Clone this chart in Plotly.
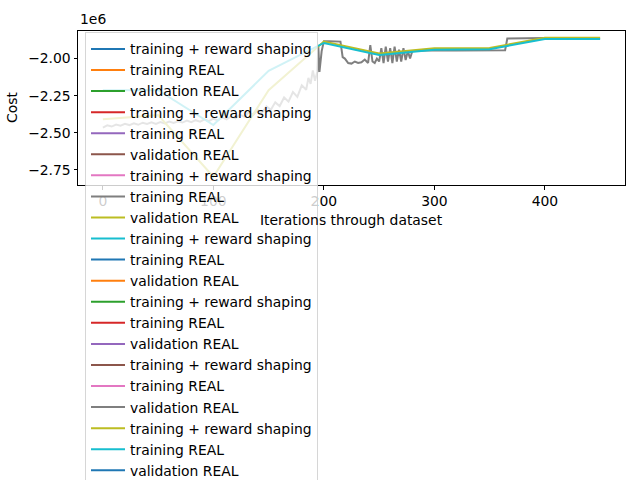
import plotly.graph_objects as go
import numpy as np

# ---------------- data (cost in units of 1e6) ----------------
labels_cycle = ["training + reward shaping", "training REAL", "validation REAL"]
colors = ["#1f77b4", "#ff7f0e", "#2ca02c", "#d62728", "#9467bd",
          "#8c564b", "#e377c2", "#7f7f7f", "#bcbd22", "#17becf"]

epoch_x = [0, 50, 100, 150, 200, 250, 300, 350, 400, 450]
shaping_cost = [-2.213, -2.213, -2.448, -2.083, -1.895, -1.976, -1.940, -1.937, -1.868, -1.868]
validation_cost = [-2.408, -2.381, -2.796, -2.213, -1.886, -1.966, -1.931, -1.929, -1.860, -1.860]

train_real_x = [0, 4, 8, 12, 16, 20, 24, 28, 32, 36, 40, 44, 48, 52, 56, 60, 64, 68, 72, 76,
                80, 84, 88, 92, 96, 100, 104, 108, 112, 116, 120, 124, 128, 132, 136, 140,
                144, 148, 152, 156, 160, 164, 168, 172, 176, 180, 184, 186, 188, 190, 192,
                194, 195, 196, 198, 200, 205, 210, 215, 217, 219, 222, 225, 228, 231, 234,
                237, 240, 242, 244, 246, 248, 250, 252, 254, 256, 258, 260, 262, 264, 266,
                268, 270, 272, 274, 276, 278, 280, 290, 300, 320, 340, 360, 364, 366, 380, 400]
train_real_cost = [-2.465, -2.450, -2.458, -2.445, -2.452, -2.440, -2.448, -2.436, -2.446, -2.432,
                   -2.441, -2.430, -2.440, -2.428, -2.437, -2.425, -2.434, -2.422, -2.431, -2.418,
                   -2.428, -2.415, -2.425, -2.410, -2.421, -2.405, -2.416, -2.398, -2.410, -2.390,
                   -2.402, -2.378, -2.392, -2.362, -2.380, -2.345, -2.365, -2.322, -2.345, -2.295,
                   -2.320, -2.262, -2.290, -2.225, -2.258, -2.180, -2.210, -2.130, -2.170, -2.080,
                   -2.150, -2.090, -1.920, -2.090, -1.950, -1.884, -1.884, -1.884, -1.886, -1.990,
                   -2.000, -2.030, -2.034, -2.020, -2.030, -2.025, -2.007, -2.030, -1.910, -2.020,
                   -2.030, -2.000, -2.020, -1.930, -2.030, -1.920, -2.020, -1.930, -2.030, -1.920,
                   -2.020, -1.940, -2.020, -1.930, -2.010, -1.950, -2.000, -1.950, -1.945, -1.944,
                   -1.945, -1.946, -1.946, -1.944, -1.865, -1.862, -1.862]

# runs whose curves are not visible in the picture (legend entries only)
empty_run_x = [None]
empty_run_cost = [None]

y_tick_vals = [-2.75, -2.50, -2.25, -2.00]
y_tick_text = ["\u22122.75", "\u22122.50", "\u22122.25", "\u22122.00"]
x_tick_vals = [0, 100, 200, 300, 400]

n_entries = 21
series_data = {7: (train_real_x, train_real_cost),
               8: (epoch_x, validation_cost),
               9: (epoch_x, shaping_cost)}

FONT = "DejaVu Sans"
fig = go.Figure()
for i in range(n_entries):
    xs, ys = series_data.get(i, (empty_run_x, empty_run_cost))
    yv = [None if v is None else v * 1e6 for v in ys]
    fig.add_trace(go.Scatter(
        x=xs, y=yv, mode="lines",
        name=labels_cycle[i % 3],
        line=dict(color=colors[i % 10], width=2),
        showlegend=True,
    ))

axis_common = dict(showline=True, linecolor="black", linewidth=1, mirror=True,
                   ticks="outside", ticklen=3.5, tickwidth=1, tickcolor="black",
                   showgrid=False, zeroline=False,
                   tickfont=dict(family=FONT, size=13.9, color="black"))

fig.update_layout(
    width=640, height=480,
    margin=dict(l=78, r=15, t=31, b=295, autoexpand=False),
    plot_bgcolor="white", paper_bgcolor="white",
    font=dict(family=FONT, size=13.9, color="black"),
    xaxis=dict(range=[-22.5, 472.5], tickvals=x_tick_vals, **axis_common),
    yaxis=dict(range=[-2.8515e6, -1.8145e6], tickvals=[v * 1e6 for v in y_tick_vals],
               ticktext=y_tick_text, **axis_common),
    legend=dict(x=0.0128, y=0.991, xanchor="left", yanchor="top",
                bgcolor="rgba(255,255,255,0.8)", bordercolor="rgba(204,204,204,0.8)",
                borderwidth=1, font=dict(family=FONT, size=13.9, color="black"),
                tracegroupgap=0, maxheight=800, itemwidth=34),
    showlegend=True,
    annotations=[
        dict(text="1e6", xref="paper", yref="paper", x=0.0, y=1.0, xanchor="left",
             yanchor="bottom", yshift=2, showarrow=False,
             font=dict(family=FONT, size=13.9, color="black")),
        dict(text="Iterations through dataset", xref="paper", yref="paper", x=0.5, y=0,
             xanchor="center", yanchor="middle", yshift=-35, showarrow=False,
             font=dict(family=FONT, size=13.9, color="black")),
        dict(text="Cost", xref="paper", yref="paper", x=0, y=0.5, xanchor="center",
             yanchor="middle", xshift=-66, textangle=-90, showarrow=False,
             font=dict(family=FONT, size=13.9, color="black")),
    ],
)

fig.write_html("out.html")
